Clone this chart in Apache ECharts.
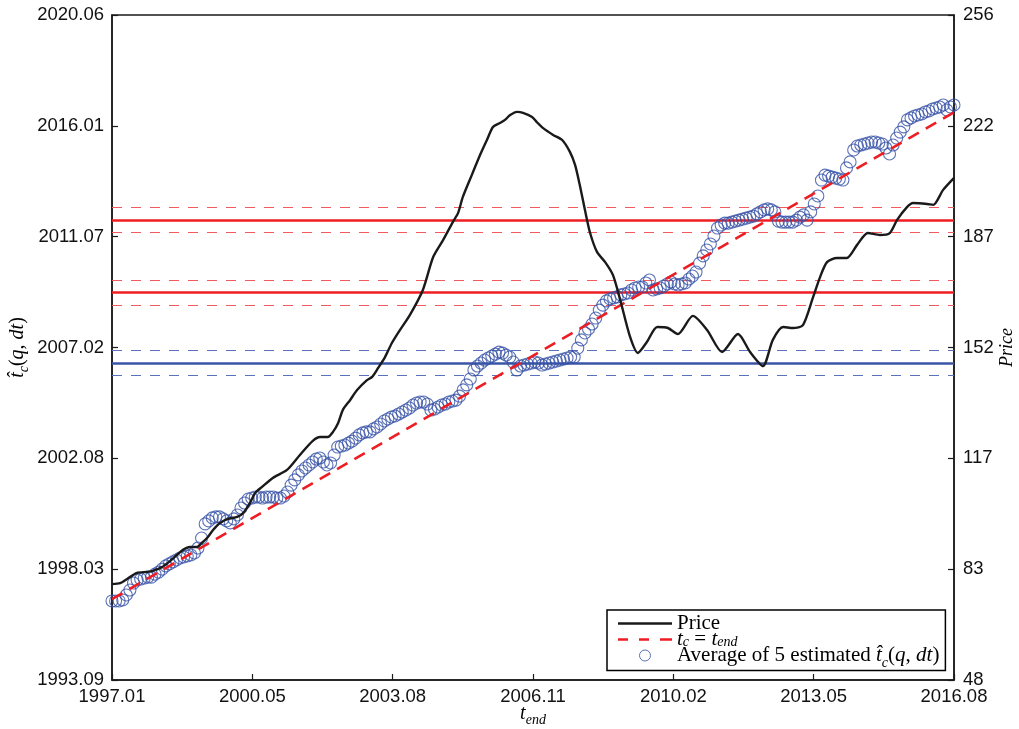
<!DOCTYPE html>
<html>
<head>
<meta charset="utf-8">
<script src="https://cdn.jsdelivr.net/npm/echarts@6/dist/echarts.min.js"></script>
<style>
  html, body { margin: 0; padding: 0; background: #ffffff; }
  #chart { width: 1019px; height: 729px; }
</style>
</head>
<body>
<div id="chart"></div>
<script>
// Tick labels (year.month)
const xTickLabels = ['1997.01', '2000.05', '2003.08', '2006.11', '2010.02', '2013.05', '2016.08'];
const leftTickLabels = ['1993.09', '1998.03', '2002.08', '2007.02', '2011.07', '2016.01', '2020.06'];
const rightTickLabels = ['48', '83', '117', '152', '187', '222', '256'];

// Monthly t_end grid starts in January 1997
const firstYear = 1997;

// Average of 5 estimated t_c(q, dt), one value per month from 1997.01 to 2016.08
const tcAverage = [
  1996.93, 1996.93, 1996.93, 1996.97, 1997.17, 1997.37, 1997.65, 1997.77, 1997.81, 1997.85, 1997.89, 1997.89,
  1998.01, 1998.09, 1998.21, 1998.34, 1998.42, 1998.50, 1998.58, 1998.66, 1998.70, 1998.74, 1998.78, 1998.86,
  1999.06, 1999.46, 2000.03, 2000.15, 2000.27, 2000.31, 2000.31, 2000.23, 2000.15, 2000.07, 2000.23, 2000.39,
  2000.67, 2000.87, 2001.03, 2001.07, 2001.11, 2001.11, 2001.07, 2001.11, 2001.11, 2001.11, 2001.07, 2001.07,
  2001.15, 2001.31, 2001.59, 2001.80, 2002.00, 2002.16, 2002.28, 2002.40, 2002.52, 2002.64, 2002.68, 2002.52,
  2002.40, 2002.48, 2002.80, 2003.12, 2003.16, 2003.20, 2003.28, 2003.36, 2003.48, 2003.61, 2003.69, 2003.73,
  2003.73, 2003.85, 2003.93, 2004.05, 2004.17, 2004.25, 2004.33, 2004.37, 2004.45, 2004.53, 2004.61, 2004.69,
  2004.81, 2004.89, 2004.93, 2004.93, 2004.85, 2004.61, 2004.65, 2004.73, 2004.81, 2004.85, 2004.93, 2004.97,
  2005.01, 2005.17, 2005.42, 2005.62, 2005.86, 2006.22, 2006.38, 2006.50, 2006.62, 2006.70, 2006.78, 2006.86,
  2006.94, 2006.90, 2006.82, 2006.74, 2006.54, 2006.22, 2006.38, 2006.42, 2006.46, 2006.50, 2006.54, 2006.50,
  2006.42, 2006.46, 2006.50, 2006.54, 2006.58, 2006.62, 2006.66, 2006.70, 2006.74, 2006.74, 2007.10, 2007.43,
  2007.71, 2007.87, 2008.07, 2008.31, 2008.63, 2008.83, 2009.00, 2009.08, 2009.12, 2009.16, 2009.24, 2009.28,
  2009.32, 2009.44, 2009.52, 2009.56, 2009.56, 2009.72, 2009.84, 2009.44, 2009.48, 2009.52, 2009.60, 2009.68,
  2009.76, 2009.68, 2009.64, 2009.68, 2009.72, 2009.88, 2010.00, 2010.16, 2010.52, 2010.81, 2011.05, 2011.29,
  2011.61, 2011.93, 2012.05, 2012.13, 2012.13, 2012.17, 2012.21, 2012.25, 2012.29, 2012.33, 2012.37, 2012.41,
  2012.50, 2012.58, 2012.66, 2012.70, 2012.66, 2012.58, 2012.21, 2012.17, 2012.17, 2012.17, 2012.17, 2012.25,
  2012.37, 2012.46, 2012.25, 2012.58, 2012.90, 2013.22, 2013.86, 2014.06, 2014.02, 2013.98, 2013.94, 2013.90,
  2013.86, 2014.35, 2014.59, 2015.07, 2015.23, 2015.27, 2015.31, 2015.35, 2015.39, 2015.39, 2015.35, 2015.31,
  2015.15, 2014.91, 2015.27, 2015.55, 2015.79, 2016.00, 2016.28, 2016.36, 2016.44, 2016.48, 2016.52, 2016.60,
  2016.64, 2016.72, 2016.76, 2016.80, 2016.88, 2016.68, 2016.80, 2016.88
];

// Price: [t_end (decimal year), price]
const priceSeries = [
  [1997.00, 78.0], [1997.19, 78.3], [1997.35, 79.6], [1997.58, 81.5], [1997.81, 81.8], [1997.95, 82.1],
  [1998.16, 83.3], [1998.35, 85.2], [1998.51, 87.1], [1998.65, 88.7], [1998.81, 89.6], [1998.98, 89.6],
  [1999.09, 90.9], [1999.21, 92.4], [1999.35, 94.9], [1999.51, 97.1], [1999.70, 98.4], [1999.91, 99.0],
  [2000.05, 100.2], [2000.21, 103.4], [2000.33, 106.5], [2000.49, 108.4], [2000.74, 111.2], [2001.07, 113.7],
  [2001.37, 118.4], [2001.67, 122.8], [2001.84, 124.0], [2002.02, 124.0], [2002.14, 125.6], [2002.26, 128.4],
  [2002.37, 132.5], [2002.54, 135.6], [2002.70, 138.7], [2002.93, 141.8], [2003.05, 142.8], [2003.19, 145.6],
  [2003.35, 149.0], [2003.51, 153.4], [2003.70, 157.5], [2003.93, 162.2], [2004.23, 170.0], [2004.47, 180.3],
  [2004.70, 185.6], [2004.93, 191.3], [2005.05, 194.1], [2005.16, 199.1], [2005.37, 206.0], [2005.56, 212.2],
  [2005.72, 216.9], [2005.86, 221.0], [2006.02, 222.2], [2006.14, 223.2], [2006.26, 224.7], [2006.42, 225.7],
  [2006.56, 225.4], [2006.77, 224.1], [2006.88, 222.5], [2007.02, 220.7], [2007.26, 218.5], [2007.47, 216.9],
  [2007.65, 213.2], [2007.77, 209.1], [2007.88, 202.8], [2008.00, 195.0], [2008.12, 187.8], [2008.28, 181.9],
  [2008.47, 178.7], [2008.65, 174.7], [2008.82, 166.9], [2009.05, 155.3], [2009.23, 150.3], [2009.44, 153.7],
  [2009.68, 158.4], [2009.93, 158.1], [2010.16, 156.2], [2010.51, 161.9], [2010.84, 157.5], [2011.19, 150.6],
  [2011.56, 156.2], [2011.84, 150.6], [2012.14, 146.2], [2012.37, 154.4], [2012.61, 158.4], [2012.84, 158.1],
  [2013.07, 159.0], [2013.30, 167.5], [2013.47, 174.1], [2013.63, 178.7], [2013.86, 180.0], [2014.09, 180.0],
  [2014.33, 184.1], [2014.58, 187.8], [2014.86, 187.2], [2015.09, 187.8], [2015.26, 191.9], [2015.49, 195.9],
  [2015.63, 197.2], [2015.96, 196.9], [2016.10, 196.6], [2016.33, 201.3], [2016.58, 205.0]
];

// Horizontal reference levels: [lower dashed, solid, upper dashed]
const upperRedBand = [2011.77, 2012.24, 2012.75];
const lowerRedBand = [2008.83, 2009.33, 2009.83];
const blueBand = [2006.01, 2006.50, 2007.00];

const xMin = 1997, xMax = 1997 + 235 / 12, xStep = (xMax - xMin) / 6;
const yMin = 1993.75, yMax = 2020.5, yStep = (yMax - yMin) / 6;
const pMin = 48, pMax = 256, pStep = (pMax - pMin) / 6;

const RED = '#ee1d23';
const RED_THIN = '#f25b5e';
const BLUE = '#3a55a6';
const BLUE_THIN = '#5a72bb';
const CIRCLE = '#3651a6';
const INK = '#1a1a1a';
const SANS = '"Liberation Sans", Arial, sans-serif';
const SERIF = '"Liberation Serif", "Times New Roman", serif';
const TICK_FONT = 18.5;

function labelFrom(list, min, step) {
  return function (v) {
    const k = Math.round((v - min) / step);
    return list[k] !== undefined ? list[k] : '';
  };
}

function band(values, solid, thin) {
  return [
    { yAxis: values[0], lineStyle: { color: thin, width: 1, type: [10, 9] } },
    { yAxis: values[1], lineStyle: { color: solid, width: 2.6, type: 'solid' } },
    { yAxis: values[2], lineStyle: { color: thin, width: 1, type: [10, 9] } }
  ];
}

// Rich text styles for math-like labels (one set per line height)
function mathSet(suffix, size, lh, subSize) {
  const s = {};
  s['it' + suffix] = { fontFamily: SERIF, fontStyle: 'italic', fontSize: size, color: '#000', lineHeight: lh };
  s['rm' + suffix] = { fontFamily: SERIF, fontSize: size, color: '#000', lineHeight: lh };
  s['sb' + suffix] = { fontFamily: SERIF, fontStyle: 'italic', fontSize: subSize, color: '#000', lineHeight: lh, verticalAlign: 'bottom', padding: [0, 0, -2, 0] };
  return s;
}
const legendRich = Object.assign({}, mathSet('1', 21, 16, 14), mathSet('2', 21, 16, 14), mathSet('3', 21, 26, 14));
const axisRich = mathSet('', 20, 22, 14);

const legendNames = {
  'Price': '{rm1|Price}',
  'tc = tend': '{it2|t}{sb2|c}{rm2| = }{it2|t}{sb2|end}',
  'Average': '{rm3|Average of 5 estimated }{it3|t\u0302}{sb3|c}{rm3|(}{it3|q}{rm3|, }{it3|dt}{rm3|)}'
};

const chart = echarts.init(document.getElementById('chart'), null, { renderer: 'canvas' });

chart.setOption({
  backgroundColor: '#ffffff',
  animation: false,
  grid: {
    left: 112, right: 65, top: 15, bottom: 49,
    outerBoundsMode: 'none', containLabel: false,
    show: true, borderColor: INK, borderWidth: 1.5, backgroundColor: 'transparent'
  },
  xAxis: {
    type: 'value', min: xMin, max: xMax, interval: xStep,
    name: '{it|t}{sb|end}', nameLocation: 'middle', nameGap: 23, nameMoveOverlap: false,
    nameTextStyle: { rich: axisRich },
    axisLine: { show: true, lineStyle: { color: INK, width: 1.5 } },
    axisTick: { show: true, inside: true, length: 6, lineStyle: { color: INK, width: 1.2 } },
    axisLabel: { formatter: labelFrom(xTickLabels, xMin, xStep), fontFamily: SANS, fontSize: TICK_FONT, color: '#111', margin: 7 },
    splitLine: { show: false }
  },
  yAxis: [
    {
      type: 'value', min: yMin, max: yMax, interval: yStep, position: 'left',
      name: '{it|t\u0302}{sb|c}{rm|(}{it|q}{rm|, }{it|dt}{rm|)}', nameLocation: 'middle', nameGap: 83, nameRotate: 90,
      nameMoveOverlap: false,
      nameTextStyle: { rich: axisRich },
      axisLine: { show: true, lineStyle: { color: INK, width: 1.5 } },
      axisTick: { show: true, inside: true, length: 6, lineStyle: { color: INK, width: 1.2 } },
      axisLabel: { formatter: labelFrom(leftTickLabels, yMin, yStep), fontFamily: SANS, fontSize: TICK_FONT, color: '#111', margin: 8 },
      splitLine: { show: false }
    },
    {
      type: 'value', min: pMin, max: pMax, interval: pStep, position: 'right',
      name: 'Price', nameLocation: 'middle', nameGap: 44, nameRotate: 90, nameMoveOverlap: false,
      nameTextStyle: { fontFamily: SERIF, fontStyle: 'italic', fontSize: 18, color: '#000' },
      axisLine: { show: true, lineStyle: { color: INK, width: 1.5 } },
      axisTick: { show: true, inside: true, length: 6, lineStyle: { color: INK, width: 1.2 } },
      axisLabel: { formatter: labelFrom(rightTickLabels, pMin, pStep), fontFamily: SANS, fontSize: TICK_FONT, color: '#111', margin: 9 },
      splitLine: { show: false }
    }
  ],
  legend: {
    orient: 'vertical', left: 607, top: 610,
    padding: [3, 6, 0, 11], itemGap: -5, itemWidth: 54, itemHeight: 11,
    borderColor: '#000', borderWidth: 1.5, backgroundColor: '#ffffff',
    selectedMode: false,
    textStyle: { fontFamily: SERIF, fontSize: 21, color: '#000', rich: legendRich },
    formatter: function (name) { return legendNames[name]; },
    data: [
      { name: 'Price', icon: 'path://M0,0h54v2.3h-54z', itemStyle: { color: INK } },
      { name: 'tc = tend', icon: 'path://M0,0h10v2.6h-10z M21,0h10v2.6h-10z M42,0h12v2.6h-12z', itemStyle: { color: RED } },
      { name: 'Average', icon: 'circle', itemStyle: { color: 'transparent', borderColor: CIRCLE, borderWidth: 1 } }
    ]
  },
  series: [
    {
      name: 'Average', type: 'scatter', yAxisIndex: 0, z: 3,
      symbol: 'circle', symbolSize: 12,
      itemStyle: { color: 'transparent', borderColor: CIRCLE, borderWidth: 1.1 },
      data: tcAverage.map(function (v, i) { return [firstYear + i / 12, v]; }),
      markLine: {
        silent: true, symbol: ['none', 'none'], label: { show: false }, z: 2,
        data: band(upperRedBand, RED, RED_THIN).concat(band(lowerRedBand, RED, RED_THIN), band(blueBand, BLUE, BLUE_THIN))
      }
    },
    {
      name: 'tc = tend', type: 'line', yAxisIndex: 0, z: 4,
      symbol: 'none',
      lineStyle: { color: RED, width: 2.6, type: [12, 8] },
      itemStyle: { color: RED },
      data: [[xMin, xMin], [xMax, xMax]]
    },
    {
      name: 'Price', type: 'line', yAxisIndex: 1, z: 5,
      symbol: 'none', smooth: 0.25,
      lineStyle: { color: INK, width: 2.4 },
      itemStyle: { color: INK },
      data: priceSeries
    }
  ]
});
</script>
</body>
</html>
